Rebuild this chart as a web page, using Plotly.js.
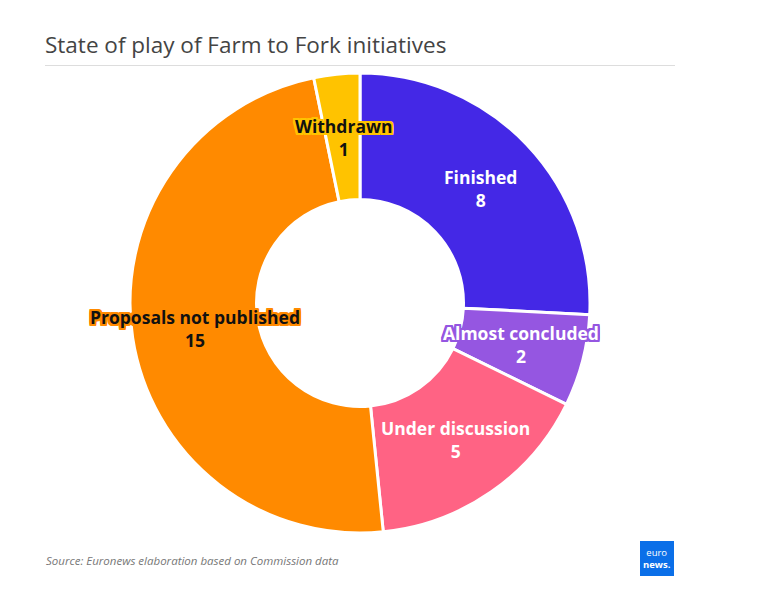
<!DOCTYPE html>
<html>
<head>
<meta charset="utf-8">
<script src="https://cdn.plot.ly/plotly-3.0.1.min.js"></script>
<style>html,body{margin:0;padding:0;background:#fff;}#chart{width:761px;height:593px;}</style>
</head>
<body>
<div id="chart"></div>
<script>
const categories = ["Finished", "Almost concluded", "Under discussion", "Proposals not published", "Withdrawn"];
const values = [8, 2, 5, 15, 1];
const colors = ["#4428E6", "#9556E1", "#FF6384", "#FF8A00", "#FFC300"];
const textColors = ["#ffffff", "#ffffff", "#ffffff", "#111111", "#111111"];

const W = 761, H = 593;
const M = {l: 130, r: 171, t: 73, b: 60};
const PW = W - M.l - M.r, PH = H - M.t - M.b;
const px2x = p => (p - M.l) / PW;
const py2y = p => 1 - (p - M.t) / PH;
const hole = 0.45;

function halo(c) {
  const o = [[-2,-2],[2,-2],[-2,2],[2,2],[0,2],[0,-2],[2,0],[-2,0],[-1,2],[1,2],[-1,-2],[1,-2],[2,1],[2,-1],[-2,1],[-2,-1]];
  return o.map(([x,y]) => `${x}px ${y}px 0 ${c}`).join(', ');
}

const total = values.reduce((a,b)=>a+b,0);
const rMid = (1 + hole) / 2 * 0.5;
let cum = 0;
const annotations = [];
values.forEach((v, i) => {
  const mid = (cum + v / 2) / total * 2 * Math.PI;
  cum += v;
  annotations.push({
    xref: 'paper', yref: 'paper',
    x: 0.5 + rMid * Math.sin(mid) * PH / PW,
    y: 0.5 + rMid * Math.cos(mid),
    xanchor: 'center', yanchor: 'middle',
    text: `${categories[i]}<br>${v}`,
    showarrow: false, align: 'center',
    font: {family: 'Open Sans, sans-serif', size: 17.5, weight: 700, color: textColors[i], shadow: halo(colors[i])}
  });
});

annotations.push({
  xref: 'paper', yref: 'paper', x: px2x(44), y: py2y(560), xanchor: 'left', yanchor: 'middle',
  text: '<i>Source: Euronews elaboration based on Commission data</i>', showarrow: false,
  font: {family: 'Open Sans, sans-serif', size: 11.5, color: '#777'}
});
annotations.push({
  xref: 'paper', yref: 'paper', x: px2x(657), y: py2y(558), xanchor: 'center', yanchor: 'middle',
  text: 'euro<br><b>news.</b>', showarrow: false, align: 'center',
  font: {family: 'Open Sans, sans-serif', size: 9.5, color: '#fff'}
});

const data = [{
  type: 'pie',
  labels: categories,
  values: values,
  marker: {colors: colors, line: {color: '#ffffff', width: 3}},
  hole: hole,
  sort: false,
  direction: 'clockwise',
  rotation: 0,
  textinfo: 'none',
  hoverinfo: 'label+value',
  showlegend: false
}];

const layout = {
  width: W, height: H,
  margin: M,
  paper_bgcolor: '#fff',
  title: {
    text: 'State of play of Farm to Fork initiatives',
    x: 45 / W, xref: 'container', xanchor: 'left',
    y: 1 - 45 / H, yref: 'container', yanchor: 'middle',
    font: {family: 'Open Sans, sans-serif', size: 22.5, color: '#444'}
  },
  shapes: [
    {type: 'line', xref: 'paper', yref: 'paper', x0: px2x(45), x1: px2x(675), y0: py2y(65.5), y1: py2y(65.5), line: {color: '#dddddd', width: 1}},
    {type: 'rect', xref: 'paper', yref: 'paper', x0: px2x(640), x1: px2x(674), y0: py2y(576), y1: py2y(541), fillcolor: '#0B6FE8', line: {width: 0}}
  ],
  annotations: annotations
};

Plotly.newPlot('chart', data, layout, {displayModeBar: false, staticPlot: true});
</script>
</body>
</html>
